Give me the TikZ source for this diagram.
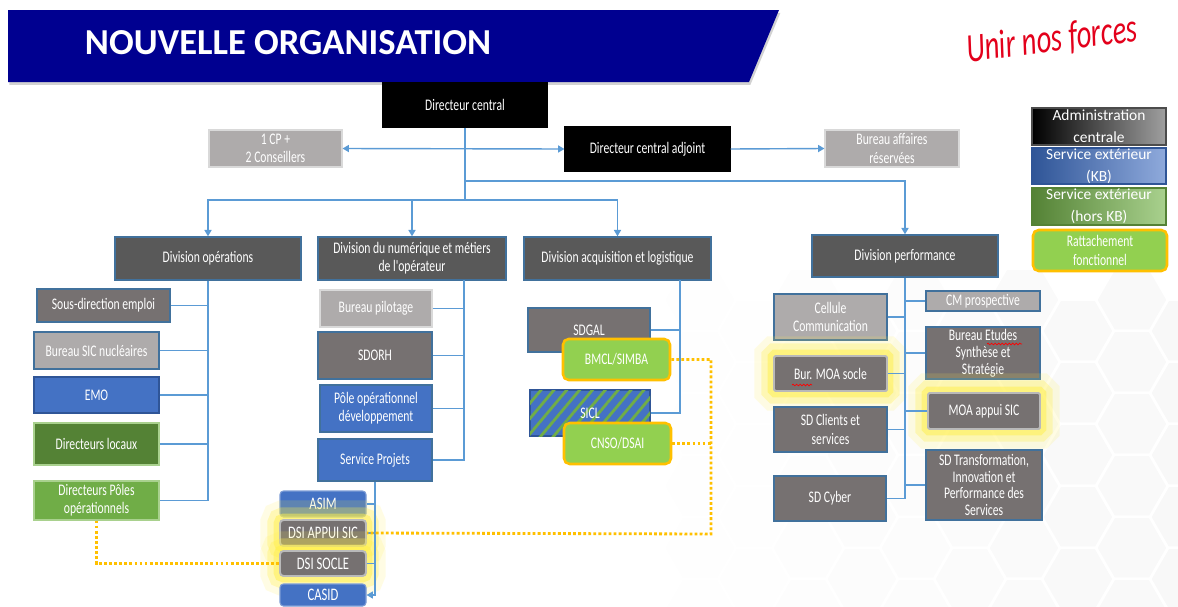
\documentclass[tikz,border=0pt]{standalone}
\usepackage{fontspec}
\setmainfont{Carlito}
\newfontfamily\narrowfont[FakeStretch=0.72]{Carlito}
\newfontfamily\handfont[FakeStretch=0.7]{Carlito}
\usetikzlibrary{arrows.meta,shadows,patterns.meta,decorations.pathmorphing}

\definecolor{titleblue}{HTML}{000090}
\definecolor{unirred}{HTML}{E3001B}
\definecolor{divgrey}{HTML}{595959}
\definecolor{midgrey}{HTML}{767171}
\definecolor{lightgrey}{HTML}{AEABAB}
\definecolor{boxblue}{HTML}{4472C4}
\definecolor{edgeblue}{HTML}{41719C}
\definecolor{darkgreen}{HTML}{548235}
\definecolor{midgreen}{HTML}{70AD47}
\definecolor{lightgreen}{HTML}{92D050}
\definecolor{gold}{HTML}{FFC000}
\definecolor{linkblue}{HTML}{5B9BD5}
\definecolor{glowyellow}{HTML}{FFF04A}
\definecolor{legblueA}{HTML}{2F5597}
\definecolor{legblueB}{HTML}{8FAADC}
\definecolor{leggreenB}{HTML}{A9D18E}

\newcommand\orgfont{\narrowfont\fontsize{11.5}{13}\selectfont}

\begin{document}
\begin{tikzpicture}[x=0.025cm, y=-0.025cm,
    >={Triangle[width=5pt,length=4.5pt]},
    sz/.style 2 args={minimum width=#1*0.025cm, minimum height=#2*0.025cm},
    box/.style={draw=edgeblue, line width=0.8pt, text=white, align=center,
      inner sep=0.5pt, font=\orgfont},
    blackbox/.style={box, fill=black, draw=black},
    lightbox/.style={box, fill=lightgrey, draw=gray!30},
    divbox/.style={box, fill=divgrey, line width=1pt},
    subbox/.style={box, rounded corners=2.5pt, fill=boxblue, draw=boxblue!70!white,
      font=\narrowfont\fontsize{12.5}{13}\selectfont},
    bevel/.style={subbox, fill=midgrey, draw=gray!55, line width=1.4pt},
    glow/.style={preaction={draw=glowyellow, line width=28pt, opacity=0.15, rounded corners=9pt},
      preaction={draw=glowyellow, line width=18pt, opacity=0.3, rounded corners=6pt},
      preaction={draw=glowyellow, line width=9pt, opacity=0.5}},
    fonctbox/.style={box, rounded corners=4pt, fill=lightgreen, draw=gold, line width=1.8pt},
    legbox/.style={draw, line width=0.8pt, inner sep=0pt},
    legtext/.style={text=white, align=center, inner sep=0pt, font=\fontsize{11}{15.5}\selectfont},
    link/.style={draw=linkblue, line width=1pt},
    fonct/.style={draw=gold, line width=2pt, dash pattern=on 2pt off 1.6pt},
    squiggle/.style={draw=red, line width=0.5pt, decorate,
      decoration={snake, amplitude=0.6pt, segment length=2.5pt}},
    hexcell/.style={draw=white, line width=2pt}]

    \useasboundingbox (0,0) rectangle (1178,606);
    \fill[white] (0,0) rectangle (1178,606);

    % Honeycomb in the background
    \begin{scope}
        \clip (0,0) rectangle (1178,606);
        \foreach \i in {0,...,9}
            \foreach \j in {0,...,5} {
                \pgfmathsetmacro\cx{700+54*\i}
                \pgfmathsetmacro\cy{300+62*\j+31*mod(\i,2)}
                \pgfmathsetmacro\tone{0.5+0.55*\i}
                \draw[hexcell, fill=gray!\tone] (\cx,\cy) +(0:36) -- +(60:36) -- +(120:36)
                    -- +(180:36) -- +(240:36) -- +(300:36) -- cycle;
            }
    \end{scope}

    % Banner
    \fill[titleblue, drop shadow={opacity=0.35, shadow xshift=1pt, shadow yshift=-2pt}]
        (8,10) -- (779,10) -- (749,82) -- (8,82) -- cycle;
    \node[anchor=west, text=white, font=\bfseries\fontsize{26}{30}\selectfont] (title) at (80,43) {NOUVELLE ORGANISATION};
    \node[text=unirred, rotate=7, font=\handfont\itshape\fontsize{29}{32}\selectfont] (slogan) at (1052,40) {Unir nos forces};

    % Direction
    \node[blackbox, sz={165}{44}] (dc) at (465,105) {Directeur central};
    \node[lightbox, sz={133}{37}] (cp) at (275.5,148.5) {1 CP +\\2 Conseillers};
    \node[blackbox, sz={165}{44}] (dca) at (647.5,149) {Directeur central adjoint};
    \node[lightbox, sz={134}{37}] (bar) at (892,148.5) {Bureau affaires\\réservées};

    % Divisions
    \node[divbox, sz={186}{43}] (dops) at (208,258.5) {Division opérations};
    \node[divbox, sz={188}{43}] (dnum) at (412,258.5) {Division du numérique et métiers\\de l'opérateur};
    \node[divbox, sz={187}{43}] (dacq) at (617.5,258.5) {Division acquisition et logistique};
    \node[divbox, sz={186}{42}] (dperf) at (905,256) {Division performance};

    % Division operations
    \node[box, fill=midgrey, sz={133}{33}] (sde) at (103.5,305.5) {Sous-direction emploi};
    \node[box, fill=lightgrey, sz={125}{37}] (bsn) at (96.5,350.5) {Bureau SIC nucléaires};
    \node[box, fill=boxblue, draw=legblueA, sz={125}{36}] (emo) at (96.5,395) {EMO};
    \node[box, fill=darkgreen, draw=leggreenB, sz={125}{42}] (dloc) at (96.5,444) {Directeurs locaux};
    \node[box, fill=midgreen, draw=leggreenB, sz={125}{39}] (dpo) at (96.5,500.5) {Directeurs Pôles\\opérationnels};

    % Division numerique
    \node[lightbox, sz={112}{37}] (bpil) at (376,308.5) {Bureau pilotage};
    \node[box, fill=midgrey, sz={114}{47}] (sdorh) at (375,355.5) {SDORH};
    \node[box, fill=boxblue, sz={112}{47}] (pod) at (376,408.5) {Pôle opérationnel\\développement};
    \node[box, fill=boxblue, sz={114}{42}] (sproj) at (375,460) {Service Projets};
    \node[subbox, sz={86}{26}] (asim) at (323,504) {ASIM};
    \node[bevel, glow, sz={86}{26}] (dapp) at (323,533) {DSI APPUI SIC};
    \node[bevel, glow, sz={86}{25}] (dsoc) at (323,563.5) {DSI SOCLE};
    \node[subbox, sz={86}{22}] (casid) at (323,595) {CASID};

    % Division acquisition
    \node[box, fill=midgrey, sz={122}{44}] (sdgal) at (589,330) {SDGAL};
    \node[fonctbox, sz={107}{41}] (bmcl) at (616.5,359.5) {BMCL/SIMBA};
    \node[box, fill=boxblue, draw=legblueA,
        postaction={pattern={Lines[angle=50,distance=7pt,line width=2pt]}, pattern color=midgreen},
        sz={120}{46}] (sicl) at (590,413) {SICL};
    \node[fonctbox, sz={107}{41}] (cnso) at (617.5,443.5) {CNSO/DSAI};

    % Division performance
    \node[lightbox, draw=edgeblue, sz={113}{46}] (cc) at (830.5,317) {Cellule\\Communication};
    \node[bevel, glow, rounded corners=1pt, sz={113}{35}, font=\orgfont] (bms) at (830.5,373.5) {Bur. MOA socle};
    \node[box, fill=midgrey, sz={113}{45}] (sdcs) at (830.5,429.5) {SD Clients et\\services};
    \node[box, fill=midgrey, sz={112}{45}] (sdcy) at (830,498.5) {SD Cyber};
    \node[lightbox, draw=edgeblue, sz={114}{20}] (cmp) at (983,301) {CM prospective};
    \node[box, fill=midgrey, sz={114}{52}, font=\narrowfont\fontsize{11.5}{12.2}\selectfont] (bess) at (983,353) {Bureau Etudes\\Synthèse et\\Stratégie};
    \node[bevel, glow, rounded corners=1pt, sz={112}{36}, font=\orgfont] (moa) at (984,411) {MOA appui SIC};
    \node[box, fill=midgrey, sz={116}{70}, font=\narrowfont\fontsize{11.5}{12}\selectfont] (sdt) at (984,485) {SD Transformation,\\Innovation et\\Performance des\\Services};

    % spell-check marks
    \draw[squiggle] (792,385) -- (812,385);
    \draw[squiggle] (987,344) -- (1022,344);

    % Legend
    \node[legbox, left color=black, right color=gray!75, draw=gray!60!black, sz={134}{37}] (leg1) at (1099,126.5) {};
    \node[legtext] (leg1t) at (leg1) {Administration\\centrale};
    \node[legbox, left color=legblueA, right color=legblueB, draw=legblueA, sz={134}{36}] (leg2) at (1099,166) {};
    \node[legtext] (leg2t) at (leg2) {Service extérieur\\(KB)};
    \node[legbox, left color=darkgreen, right color=leggreenB, draw=darkgreen, sz={134}{37}] (leg3) at (1099,206.5) {};
    \node[legtext] (leg3t) at (leg3) {Service extérieur\\(hors KB)};
    \node[fonctbox, sz={134}{41}, font=\narrowfont\fontsize{11.5}{14}\selectfont] (leg4) at (1100,250.5) {Rattachement\\fonctionnel};

    % Links from the top
    \coordinate (fork) at (465,181);
    \coordinate (bus) at (465,200);
    \draw[link,<->] (cp.east) -- (dca.west);
    \draw[link,->] (dca.east) -- (bar.west);
    \draw[link] (dc.south) -- (bus);
    \draw[link,->] (fork) -| (dperf.north);
    \foreach \d in {dops,dnum,dacq}
        \draw[link,->] (bus) -| (\d.north);

    % Links inside divisions
    \draw[link] (dops.south) |- (dpo.east);
    \foreach \n in {sde,bsn,emo,dloc}
        \draw[link] (\n.east) -- (\n.east -| dops.south);

    \coordinate (numtop) at (464,280);
    \draw[link] (numtop) |- (sproj.east);
    \foreach \n in {bpil,sdorh,pod}
        \draw[link] (\n.east) -- (\n.east -| numtop);
    \draw[link,->] (sproj.south) |- (casid.east);
    \foreach \n in {asim,dapp,dsoc}
        \draw[link] (\n.east) -- (\n.east -| sproj.south);

    \coordinate (acqtop) at (680,280);
    \draw[link] (acqtop) |- (sicl.east);
    \draw[link] (sdgal.east) -- (sdgal.east -| acqtop);

    \draw[link] (dperf.south) |- (sdcy.east);
    \foreach \n in {cc,bms,sdcs}
        \draw[link] (\n.east) -- (\n.east -| dperf.south);
    \foreach \n in {cmp,bess,moa,sdt}
        \draw[link] (\n.west) -- (\n.west -| dperf.south);

    % Functional attachments
    \coordinate (dotc) at (711,534);
    \draw[fonct] (bmcl.east) -| (dotc) -- (dapp.east);
    \draw[fonct] (cnso.east) -- (cnso.east -| dotc);
    \draw[fonct] (dpo.south) |- (dsoc.west);
\end{tikzpicture}
\end{document}
